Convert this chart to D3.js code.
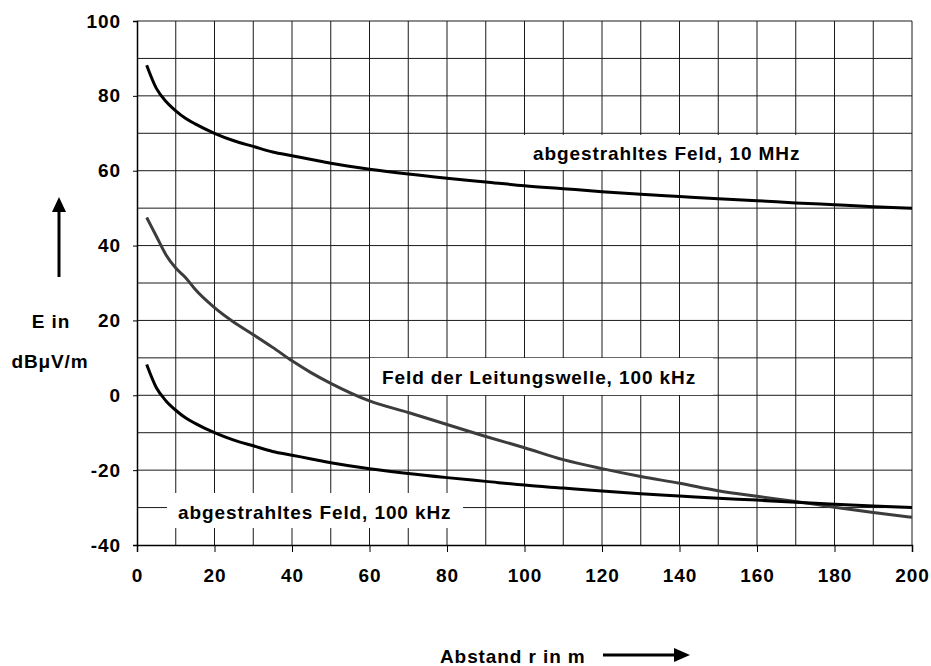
<!DOCTYPE html>
<html>
<head>
<meta charset="utf-8">
<script src="https://cdn.jsdelivr.net/npm/d3@7"></script>
<style>
  body { margin: 0; background: #fff; }
  svg text { font-family: Arial, "Liberation Sans", sans-serif; font-weight: bold; fill: #000; }
</style>
</head>
<body>
<div id="chart"></div>
<script>
// distance r in m
const distances = [2.5, 5, 7.5, 10, 12.5, 15, 20, 25, 30, 35, 40, 45, 50, 60, 70, 80, 90, 100,
  110, 120, 130, 140, 150, 160, 170, 180, 190, 200];

// field strength in dBµV/m
const radiated10MHz = [88.2, 82, 78.5, 76, 74, 72.5, 70, 68, 66.5, 65, 64, 63, 62, 60.4, 59.1, 58, 57, 56,
  55.2, 54.4, 53.7, 53.1, 52.5, 52, 51.4, 50.9, 50.4, 50];
const lineWave100kHz = [47.5, 42.5, 37.5, 34, 31.5, 28.3, 23.4, 19.5, 16.2, 12.8, 9.2, 6, 3.2, -1.5, -4.6, -7.8, -11, -14,
  -17.2, -19.6, -21.7, -23.5, -25.5, -27, -28.4, -29.9, -31.3, -32.6];
const radiated100kHz = [8.2, 2, -1.5, -4, -6, -7.5, -10, -12, -13.5, -15, -16, -17, -18, -19.6, -20.9, -22, -23, -24,
  -24.8, -25.6, -26.3, -26.9, -27.5, -28, -28.6, -29.1, -29.6, -30];

const xTicks = [0, 20, 40, 60, 80, 100, 120, 140, 160, 180, 200];
const yTicks = [-40, -20, 0, 20, 40, 60, 80, 100];

const series = [
  { name: "abgestrahltes Feld, 10 MHz", values: radiated10MHz, color: "#000" },
  { name: "Feld der Leitungswelle, 100 kHz", values: lineWave100kHz, color: "#3c3c3c" },
  { name: "abgestrahltes Feld, 100 kHz", values: radiated100kHz, color: "#000" },
];

const width = 931;
const height = 666;
const margin = { top: 21, right: 19, bottom: 121, left: 137 };
const fontSize = 19;
const spacing = 0.9;

const svg = d3.select("#chart")
  .append("svg")
  .attr("width", width)
  .attr("height", height);

const x = d3.scaleLinear().domain([0, 200]).range([margin.left, width - margin.right]);
const y = d3.scaleLinear().domain([-40, 100]).range([height - margin.bottom, margin.top]);

// grid every 10 units
const grid = svg.append("g");
grid.selectAll("line.v")
  .data(d3.range(10, 201, 10))
  .join("line")
  .attr("x1", (d) => x(d)).attr("x2", (d) => x(d))
  .attr("y1", y(100)).attr("y2", y(-40))
  .attr("stroke", "#1a1a1a").attr("stroke-width", 1);
grid.selectAll("line.h")
  .data(d3.range(-30, 101, 10))
  .join("line")
  .attr("x1", x(0)).attr("x2", x(200))
  .attr("y1", (d) => y(d)).attr("y2", (d) => y(d))
  .attr("stroke", "#1a1a1a").attr("stroke-width", 1);

const styleTicks = (g) => g.selectAll(".tick text")
  .attr("font-size", fontSize)
  .attr("letter-spacing", spacing)
  .attr("font-family", null);

// axes
svg.append("g")
  .attr("transform", `translate(0,${y(-40)})`)
  .call(d3.axisBottom(x).tickValues(xTicks).tickFormat((d) => String(d)).tickSize(7).tickPadding(17))
  .call((g) => g.select(".domain").attr("stroke", "#000").attr("stroke-width", 1.5))
  .call(styleTicks);

svg.append("g")
  .attr("transform", `translate(${x(0)},0)`)
  .call(d3.axisLeft(y).tickValues(yTicks).tickFormat((d) => String(d)).tickSize(4).tickPadding(12))
  .call((g) => g.select(".domain").attr("stroke", "#000").attr("stroke-width", 1.5))
  .call(styleTicks);

// label boxes (drawn under the curves)
const labels = [
  { text: series[0].name, x0: 523, x1: 817, y0: 135, y1: 170, tx: 533, ty: 160 },
  { text: series[1].name, x0: 370, x1: 713, y0: 358, y1: 395, tx: 382, ty: 384 },
  { text: series[2].name, x0: 167, x1: 463, y0: 493, y1: 528, tx: 178, ty: 519 },
];
const lab = svg.append("g");
lab.selectAll("rect")
  .data(labels)
  .join("rect")
  .attr("x", (d) => d.x0).attr("y", (d) => d.y0)
  .attr("width", (d) => d.x1 - d.x0).attr("height", (d) => d.y1 - d.y0)
  .attr("fill", "#fff");

// curves
const line = d3.line()
  .curve(d3.curveMonotoneX)
  .x((d) => x(d[0]))
  .y((d) => y(d[1]));

svg.append("g")
  .selectAll("path")
  .data(series)
  .join("path")
  .attr("d", (s) => line(distances.map((r, i) => [r, s.values[i]])))
  .attr("fill", "none")
  .attr("stroke", (s) => s.color)
  .attr("stroke-width", 3)
  .attr("stroke-linejoin", "round");

lab.selectAll("text")
  .data(labels)
  .join("text")
  .attr("x", (d) => d.tx).attr("y", (d) => d.ty)
  .attr("font-size", fontSize)
  .attr("letter-spacing", spacing)
  .text((d) => d.text);

// y axis title with arrow
const yt = svg.append("g");
yt.append("line")
  .attr("x1", 59).attr("x2", 59).attr("y1", 277).attr("y2", 210)
  .attr("stroke", "#000").attr("stroke-width", 3);
yt.append("path")
  .attr("d", "M52,212 L59,197 L66,212 Z")
  .attr("fill", "#000");
yt.append("text").attr("x", 51).attr("y", 328).attr("text-anchor", "middle")
  .attr("font-size", fontSize).attr("letter-spacing", spacing).text("E in");
yt.append("text").attr("x", 50).attr("y", 368).attr("text-anchor", "middle")
  .attr("font-size", fontSize).attr("letter-spacing", spacing).text("dBμV/m");

// x axis title with arrow
const xt = svg.append("g");
xt.append("text").attr("x", 440).attr("y", 663)
  .attr("font-size", fontSize).attr("letter-spacing", spacing).text("Abstand r in m");
xt.append("line")
  .attr("x1", 603).attr("x2", 676).attr("y1", 655).attr("y2", 655)
  .attr("stroke", "#000").attr("stroke-width", 3);
xt.append("path")
  .attr("d", "M674,648 L690,655 L674,662 Z")
  .attr("fill", "#000");
</script>
</body>
</html>
